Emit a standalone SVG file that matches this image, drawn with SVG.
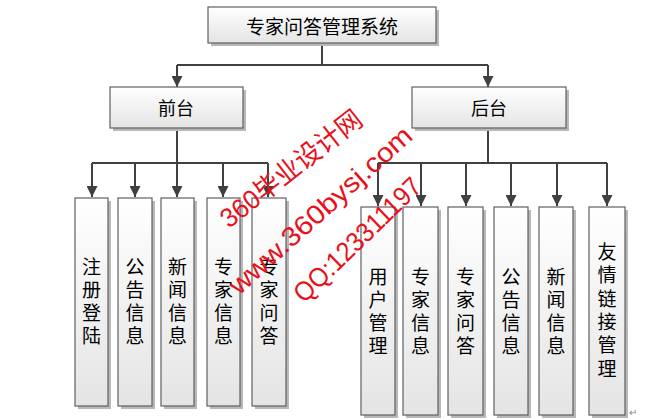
<svg xmlns="http://www.w3.org/2000/svg" width="655" height="419" viewBox="0 0 655 419">
<defs>
<linearGradient id="g" x1="0" y1="0" x2="0" y2="1">
<stop offset="0" stop-color="#ffffff"/>
<stop offset="1" stop-color="#e4e4e4"/>
</linearGradient>
<marker id="arr" viewBox="0 0 10 10" refX="10" refY="5" markerWidth="11" markerHeight="11" markerUnits="userSpaceOnUse" orient="auto">
<path d="M0,0 L10,5 L0,10 z" fill="#404040"/>
</marker>
</defs>
<style>
.sh{fill:#b8b8b8}
.bx{fill:url(#g);stroke:#606060;stroke-width:1.2}
.t{font-family:"Noto Sans CJK SC","Liberation Serif",serif;fill:#000;text-anchor:middle;dominant-baseline:central}
.c path{fill:none;stroke:#404040;stroke-width:2}
.wm{font-family:"Liberation Sans","Noto Sans CJK SC",sans-serif;fill:#e8101a;font-size:27px}
</style>
<rect width="655" height="419" fill="#fff"/>
<g class="c">
<path d="M322,43 V65 M177,65 H488"/>
<path d="M177,65 V87" marker-end="url(#arr)"/>
<path d="M488,65 V87" marker-end="url(#arr)"/>
<path d="M177,128 V163 M92,163 H268"/>
<path d="M92,163 V197" marker-end="url(#arr)"/>
<path d="M135,163 V197" marker-end="url(#arr)"/>
<path d="M177,163 V197" marker-end="url(#arr)"/>
<path d="M223,163 V197" marker-end="url(#arr)"/>
<path d="M268,163 V197" marker-end="url(#arr)"/>
<path d="M488,128 V163 M378,163 H607"/>
<path d="M378,163 V206" marker-end="url(#arr)"/>
<path d="M421,163 V206" marker-end="url(#arr)"/>
<path d="M466,163 V206" marker-end="url(#arr)"/>
<path d="M511,163 V206" marker-end="url(#arr)"/>
<path d="M557,163 V206" marker-end="url(#arr)"/>
<path d="M607,163 V206" marker-end="url(#arr)"/>
</g>
<g id="root"><rect class="sh" x="211" y="10" width="228" height="36"/><rect class="bx" x="208" y="7" width="228" height="36"/><text class="t" x="322" y="25" font-size="19">专家问答管理系统</text></g>
<g id="qiantai"><rect class="sh" x="113" y="90" width="133" height="41"/><rect class="bx" x="110" y="87" width="133" height="41"/><text class="t" x="176" y="107" font-size="18">前台</text></g>
<g id="houtai"><rect class="sh" x="415" y="90" width="154" height="41"/><rect class="bx" x="412" y="87" width="154" height="41"/><text class="t" x="489" y="107" font-size="18">后台</text></g>
<g id="f1"><rect class="sh" x="78" y="201" width="33" height="208"/><rect class="bx" x="75" y="198" width="33" height="208"/><text class="t" font-size="19"><tspan x="91.5" y="265">注</tspan><tspan x="91.5" y="288">册</tspan><tspan x="91.5" y="311">登</tspan><tspan x="91.5" y="334">陆</tspan></text></g>
<g id="f2"><rect class="sh" x="121" y="201" width="34" height="208"/><rect class="bx" x="118" y="198" width="34" height="208"/><text class="t" font-size="19"><tspan x="135" y="265">公</tspan><tspan x="135" y="288">告</tspan><tspan x="135" y="311">信</tspan><tspan x="135" y="334">息</tspan></text></g>
<g id="f3"><rect class="sh" x="164" y="201" width="33" height="208"/><rect class="bx" x="161" y="198" width="33" height="208"/><text class="t" font-size="19"><tspan x="177.5" y="265">新</tspan><tspan x="177.5" y="288">闻</tspan><tspan x="177.5" y="311">信</tspan><tspan x="177.5" y="334">息</tspan></text></g>
<g id="f4"><rect class="sh" x="210" y="201" width="33" height="208"/><rect class="bx" x="207" y="198" width="33" height="208"/><text class="t" font-size="19"><tspan x="223.5" y="265">专</tspan><tspan x="223.5" y="288">家</tspan><tspan x="223.5" y="311">信</tspan><tspan x="223.5" y="334">息</tspan></text></g>
<g id="f5"><rect class="sh" x="255" y="201" width="34" height="208"/><rect class="bx" x="252" y="198" width="34" height="208"/><text class="t" font-size="19"><tspan x="269" y="265">专</tspan><tspan x="269" y="288">家</tspan><tspan x="269" y="311">问</tspan><tspan x="269" y="334">答</tspan></text></g>
<g id="b1"><rect class="sh" x="364" y="210" width="34" height="208"/><rect class="bx" x="361" y="207" width="34" height="208"/><text class="t" font-size="19"><tspan x="378" y="275">用</tspan><tspan x="378" y="298">户</tspan><tspan x="378" y="321">管</tspan><tspan x="378" y="344">理</tspan></text></g>
<g id="b2"><rect class="sh" x="406" y="210" width="35" height="208"/><rect class="bx" x="403" y="207" width="35" height="208"/><text class="t" font-size="19"><tspan x="420.5" y="275">专</tspan><tspan x="420.5" y="298">家</tspan><tspan x="420.5" y="321">信</tspan><tspan x="420.5" y="344">息</tspan></text></g>
<g id="b3"><rect class="sh" x="451" y="210" width="35" height="208"/><rect class="bx" x="448" y="207" width="35" height="208"/><text class="t" font-size="19"><tspan x="465.5" y="275">专</tspan><tspan x="465.5" y="298">家</tspan><tspan x="465.5" y="321">问</tspan><tspan x="465.5" y="344">答</tspan></text></g>
<g id="b4"><rect class="sh" x="497" y="210" width="34" height="208"/><rect class="bx" x="494" y="207" width="34" height="208"/><text class="t" font-size="19"><tspan x="511" y="275">公</tspan><tspan x="511" y="298">告</tspan><tspan x="511" y="321">信</tspan><tspan x="511" y="344">息</tspan></text></g>
<g id="b5"><rect class="sh" x="542" y="210" width="34" height="208"/><rect class="bx" x="539" y="207" width="34" height="208"/><text class="t" font-size="19"><tspan x="556" y="275">新</tspan><tspan x="556" y="298">闻</tspan><tspan x="556" y="321">信</tspan><tspan x="556" y="344">息</tspan></text></g>
<g id="b6"><rect class="sh" x="592" y="210" width="36" height="208"/><rect class="bx" x="589" y="207" width="36" height="208"/><text class="t" font-size="19"><tspan x="607" y="250">友</tspan><tspan x="607" y="273">情</tspan><tspan x="607" y="297">链</tspan><tspan x="607" y="320">接</tspan><tspan x="607" y="343">管</tspan><tspan x="607" y="367">理</tspan></text></g>
<text x="629" y="416" font-family="Liberation Sans,sans-serif" font-size="10" fill="#888">↵</text>
<g id="watermark">
<text class="wm" transform="translate(229,229) rotate(-38)" textLength="172" lengthAdjust="spacingAndGlyphs">360毕业设计网</text>
<text class="wm" transform="translate(239,296) rotate(-42)" textLength="236" lengthAdjust="spacingAndGlyphs">www.360bysj.com</text>
<text class="wm" transform="translate(304,304) rotate(-44)" textLength="166" lengthAdjust="spacingAndGlyphs">QQ:123311197</text>
</g>
</svg>
